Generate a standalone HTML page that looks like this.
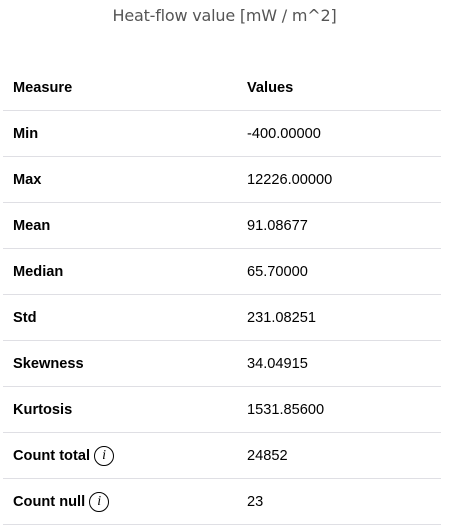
<!DOCTYPE html>
<html><head><meta charset="utf-8"><style>
html,body{margin:0;padding:0;background:#fff;width:449px;height:532px;overflow:hidden}
.title{position:absolute;left:0;width:449px;top:6px;text-align:center;font-family:"DejaVu Sans","Liberation Sans",sans-serif;font-size:16px;color:#555;letter-spacing:-0.2px}
.row{position:absolute;left:3px;width:438px;height:46px;border-bottom:1px solid #dfdfe4;font-family:"Liberation Sans",sans-serif;font-size:14.6px;color:#000}
.row .m{position:absolute;left:10px;top:16px;font-weight:bold;white-space:nowrap;line-height:17px}
.row .v{position:absolute;left:244px;top:16px;line-height:17px}
.hdr .v{font-weight:bold}
.info{display:inline-block;position:relative;top:-6px;width:20px;height:20px;border:1.3px solid #000;border-radius:50%;box-sizing:border-box;margin-left:4px;text-align:center;font:italic 14px/18px "Liberation Serif",serif;vertical-align:-5px}
</style></head><body>
<div class="title">Heat-flow value [mW / m^2]</div>
<div class="row hdr" style="top:64px"><span class="m">Measure</span><span class="v">Values</span></div>
<div class="row" style="top:110px"><span class="m">Min</span><span class="v">-400.00000</span></div>
<div class="row" style="top:156px"><span class="m">Max</span><span class="v">12226.00000</span></div>
<div class="row" style="top:202px"><span class="m">Mean</span><span class="v">91.08677</span></div>
<div class="row" style="top:248px"><span class="m">Median</span><span class="v">65.70000</span></div>
<div class="row" style="top:294px"><span class="m">Std</span><span class="v">231.08251</span></div>
<div class="row" style="top:340px"><span class="m">Skewness</span><span class="v">34.04915</span></div>
<div class="row" style="top:386px"><span class="m">Kurtosis</span><span class="v">1531.85600</span></div>
<div class="row" style="top:432px"><span class="m">Count total<span class="info">i</span></span><span class="v">24852</span></div>
<div class="row" style="top:478px"><span class="m">Count null<span class="info">i</span></span><span class="v">23</span></div>
</body></html>
